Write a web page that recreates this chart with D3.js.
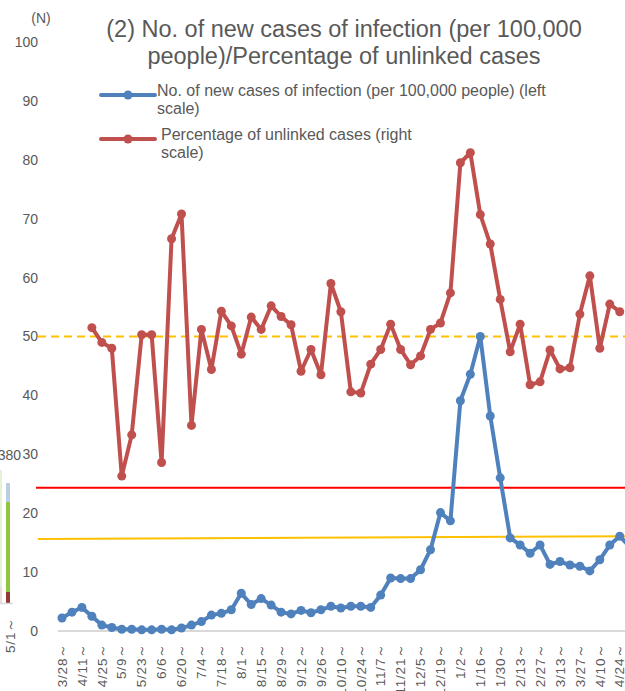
<!DOCTYPE html>
<html>
<head>
<meta charset="utf-8">
<script src="https://cdn.jsdelivr.net/npm/d3@7"></script>
<style>
  body { margin: 0; background: #fff; }
  svg { display: block; font-family: "Liberation Sans", Arial, sans-serif; }
</style>
</head>
<body>
<div id="chart"></div>
<script>
var svgWidth = 625;
var svgHeight = 691;

// weekly categories (week starting)
var weeks = ["3/28","4/4","4/11","4/18","4/25","5/2","5/9","5/16","5/23","5/30",
  "6/6","6/13","6/20","6/27","7/4","7/11","7/18","7/25","8/1","8/8",
  "8/15","8/22","8/29","9/5","9/12","9/19","9/26","10/3","10/10","10/17",
  "10/24","10/31","11/7","11/14","11/21","11/28","12/5","12/12","12/19","12/26",
  "1/2","1/9","1/16","1/23","1/30","2/6","2/13","2/20","2/27","3/6",
  "3/13","3/20","3/27","4/3","4/10","4/17","4/24","5/1"];

// new cases per 100,000 people (left scale)
var newCases = [2.2,3.2,4.0,2.5,1.0,0.6,0.3,0.3,0.2,0.2,
  0.3,0.2,0.5,1.0,1.6,2.7,3.0,3.6,6.4,4.5,
  5.5,4.4,3.2,2.9,3.5,3.1,3.6,4.2,3.9,4.2,
  4.2,4.0,6.1,9.0,8.9,8.9,10.4,13.8,20.1,18.7,
  39.1,43.6,50.0,36.5,26.0,15.8,14.6,13.2,14.6,11.3,
  11.8,11.2,11.0,10.2,12.1,14.6,16.1,14.3];

// percentage of unlinked cases (right scale)
var unlinked = [null,null,null,51.5,49.0,48.0,26.3,33.3,50.3,50.3,
  28.6,66.6,70.8,34.9,51.2,44.4,54.3,51.8,47.0,53.3,
  51.2,55.2,53.4,52.0,44.1,47.8,43.5,59.0,54.2,40.6,
  40.4,45.3,47.8,52.1,47.8,45.2,46.7,51.2,52.3,57.4,
  79.5,81.2,70.7,65.7,56.3,47.4,52.1,41.8,42.3,47.7,
  44.5,44.7,53.8,60.3,48.0,55.5,54.2,null];

var yTicks = [0,10,20,30,40,50,60,70,80,90,100];
var xTickLabels = weeks.filter(function(d, i){ return i % 2 === 0; });

// reference lines
var redLevel = 24.3;
var yellowLevel = [15.6, 16.1];
var dashedLevel = 50;

var titleLines = ["(2) No. of new cases of infection (per 100,000",
  "people)/Percentage of unlinked cases"];
var legendItems = [
  {lines: ["No. of new cases of infection (per 100,000 people) (left", "scale)"], color: "#4F81BD"},
  {lines: ["Percentage of unlinked cases (right", "scale)"], color: "#C0504D"}
];

var textColor = "#595959";

var svg = d3.select("#chart")
  .append("svg")
  .attr("width", svgWidth)
  .attr("height", svgHeight);

var x = d3.scalePoint()
  .domain(weeks)
  .range([62, 629.7]);

var y = d3.scaleLinear()
  .domain([0, 100])
  .range([631, 42]);

// bits of the neighbouring chart that got cropped in on the left
svg.append("rect").attr("x", 0).attr("y", 470).attr("width", 2).attr("height", 117).attr("fill", "#E6F2D8");
svg.append("rect").attr("x", 0).attr("y", 587).attr("width", 2).attr("height", 16).attr("fill", "#EFDCDC");
svg.append("rect").attr("x", 6).attr("y", 483).attr("width", 4).attr("height", 19).attr("fill", "#B9CDE5");
svg.append("rect").attr("x", 6).attr("y", 502).attr("width", 4).attr("height", 90).attr("fill", "#8DC63F");
svg.append("rect").attr("x", 6).attr("y", 592).attr("width", 4).attr("height", 11).attr("fill", "#953735");
svg.append("line").attr("x1", 0).attr("x2", 13).attr("y1", 603.5).attr("y2", 603.5)
  .attr("stroke", "#D9D9D9").attr("stroke-width", 1.5);
svg.append("text").attr("x", 21).attr("y", 460).attr("text-anchor", "end")
  .style("font-size", "14px").style("fill", textColor).text("380");
svg.append("text").attr("transform", "translate(10,617) rotate(-90)")
  .attr("text-anchor", "end").attr("dy", "0.35em")
  .style("font-size", "13.5px").style("letter-spacing", "0.8px")
  .style("fill", textColor).text("5/1～");

// title
svg.append("g").selectAll("text")
  .data(titleLines)
  .enter()
  .append("text")
  .attr("x", 344)
  .attr("y", function(d, i){ return 37 + i * 27; })
  .attr("text-anchor", "middle")
  .style("font-size", "23.5px")
  .style("fill", textColor)
  .text(function(d){ return d; });

svg.append("text")
  .attr("x", 41).attr("y", 23)
  .attr("text-anchor", "middle")
  .style("font-size", "14px")
  .style("fill", textColor)
  .text("(N)");

// left axis labels
svg.append("g").selectAll("text")
  .data(yTicks)
  .enter()
  .append("text")
  .attr("x", 38)
  .attr("y", d => y(d))
  .attr("dy", "0.35em")
  .attr("text-anchor", "end")
  .style("font-size", "14px")
  .style("fill", textColor)
  .text(d => d);

// x axis line
svg.append("line")
  .attr("x1", 58).attr("x2", svgWidth)
  .attr("y1", y(0)).attr("y2", y(0))
  .attr("stroke", "#D9D9D9").attr("stroke-width", 2);

// x labels, rotated
svg.append("g").selectAll("text")
  .data(xTickLabels)
  .enter()
  .append("text")
  .attr("transform", d => `translate(${x(d)}, 643) rotate(-90)`)
  .attr("dy", "0.35em")
  .attr("text-anchor", "end")
  .style("font-size", "13.5px")
  .style("letter-spacing", "0.8px")
  .style("fill", textColor)
  .text(d => d + "～");

// reference lines
svg.append("line")
  .attr("x1", 36).attr("x2", svgWidth)
  .attr("y1", y(redLevel)).attr("y2", y(redLevel))
  .attr("stroke", "#FF0000").attr("stroke-width", 2);

svg.append("line")
  .attr("x1", 38).attr("x2", svgWidth)
  .attr("y1", y(yellowLevel[0])).attr("y2", y(yellowLevel[1]))
  .attr("stroke", "#FFC000").attr("stroke-width", 2);

svg.append("line")
  .attr("x1", 38).attr("x2", svgWidth)
  .attr("y1", y(dashedLevel)).attr("y2", y(dashedLevel))
  .attr("stroke", "#FFC000").attr("stroke-width", 2)
  .attr("stroke-dasharray", "8,5");

function drawSeries(values, color) {
  var pts = values.map(function(v, i){ return {week: weeks[i], v: v}; })
    .filter(function(d){ return d.v !== null; });
  var line = d3.line()
    .x(d => x(d.week))
    .y(d => y(d.v));
  svg.append("path")
    .datum(pts)
    .attr("d", line)
    .attr("fill", "none")
    .attr("stroke", color)
    .attr("stroke-width", 4)
    .attr("stroke-linejoin", "round");
  svg.append("g").selectAll("circle")
    .data(pts)
    .enter()
    .append("circle")
    .attr("cx", d => x(d.week))
    .attr("cy", d => y(d.v))
    .attr("r", 4.5)
    .attr("fill", color);
}

drawSeries(unlinked, "#C0504D");
drawSeries(newCases, "#4F81BD");

// legend
var legend = svg.append("g");
legendItems.forEach(function(item, k){
  var ly = k === 0 ? 95 : 139;
  var tx = k === 0 ? 157 : 161;
  var ty = k === 0 ? 96 : 140;
  legend.append("line")
    .attr("x1", 101).attr("x2", 155)
    .attr("y1", ly).attr("y2", ly)
    .attr("stroke", item.color).attr("stroke-width", 4)
    .attr("stroke-linecap", "round");
  legend.append("circle")
    .attr("cx", 128).attr("cy", ly).attr("r", 4.5)
    .attr("fill", item.color);
  item.lines.forEach(function(t, j){
    legend.append("text")
      .attr("x", tx)
      .attr("y", ty + j * 18)
      .style("font-size", "16px")
      .style("fill", textColor)
      .text(t);
  });
});
</script>
</body>
</html>
